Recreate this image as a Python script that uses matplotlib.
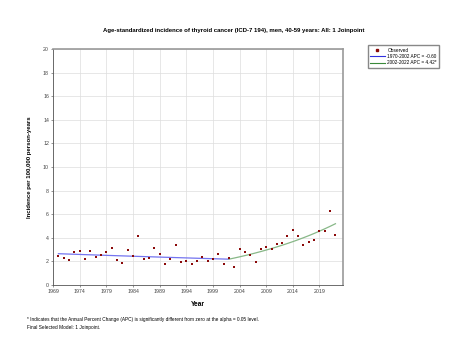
import matplotlib
matplotlib.use("Agg")
import matplotlib.pyplot as plt
import numpy as np

plt.rcParams["font.family"] = ["Liberation Sans", "DejaVu Sans"]

# observed age-standardized incidence, men 40-59
years = list(range(1970, 2023))
observed = [2.43, 2.26, 2.09, 2.77, 2.85, 2.23, 2.91, 2.40, 2.57, 2.77,
            3.11, 2.15, 1.89, 2.94, 2.43, 4.13, 2.18, 2.29, 3.16, 2.65,
            1.75, 2.20, 3.39, 1.92, 2.06, 1.81, 2.00, 2.37, 2.00, 2.20,
            2.63, 1.81, 2.32, 1.50, 3.08, 2.80, 2.54, 1.95, 3.05, 3.19,
            3.02, 3.50, 3.58, 4.18, 4.66, 4.12, 3.36, 3.62, 3.84, 4.58,
            4.58, 6.25, 4.26]

# joinpoint segments
seg_start = [1970, 2002]
seg_end = [2002, 2022]
seg_apc = [-0.60, 4.42]
start_value = 2.65
seg_labels = ["1970-2002 APC = -0.60", "2002-2022 APC = 4.42*"]
seg_colors = ["#7474f0", "#88b888"]
legend_colors = ["#3030e0", "#3a8a3a"]

xticks = [1969, 1974, 1979, 1984, 1989, 1994, 1999, 2004, 2009, 2014, 2019]
yticks = list(range(0, 21, 2))

fig = plt.figure(figsize=(4.5, 3.45), dpi=100)
ax = fig.add_axes([0.118, 0.174, 0.644, 0.684])

v0 = start_value
for s, e, apc, c in zip(seg_start, seg_end, seg_apc, seg_colors):
    t = np.arange(s, e + 1)
    fit = v0 * (1 + apc / 100.0) ** (t - s)
    ax.plot(t, fit, color=c, lw=0.9, zorder=2)
    v0 = fit[-1]

ax.scatter(years, observed, s=4.5, color="#8b0a0a", marker="s", zorder=3, linewidths=0)

ax.set_xlim(1969, 2023.4)
ax.set_ylim(0, 20)
ax.set_xticks(xticks)
ax.set_yticks(yticks)
ax.tick_params(labelsize=3.8, length=1.5, width=0.4, colors="#444444", pad=1.5)
ax.grid(True, color="#dddddd", lw=0.5)
ax.set_axisbelow(True)
for side in ["left", "bottom"]:
    ax.spines[side].set_color("#555555")
    ax.spines[side].set_linewidth(0.6)
for side in ["top", "right"]:
    ax.spines[side].set_color("#999999")
    ax.spines[side].set_linewidth(1.2)

ax.set_xlabel("Year", fontsize=4.8, fontweight="bold", labelpad=5)
ax.set_ylabel("Incidence per 100,000 person-years", fontsize=4.3,
              fontweight="bold", labelpad=8)

fig.text(0.52, 0.913, "Age-standardized incidence of thyroid cancer (ICD-7 194), men, 40-59 years: All: 1 Joinpoint",
         ha="center", va="center", fontsize=4.3, fontweight="bold")

# legend
handles = [plt.Line2D([], [], ls="none", marker="s", ms=1.6, color="#8b0a0a")]
for c in legend_colors:
    handles.append(plt.Line2D([], [], color=c, lw=0.8))
fig.legend(handles, ["Observed"] + seg_labels, loc="upper left",
           bbox_to_anchor=(0.813, 0.875), fontsize=3.4, frameon=True,
           fancybox=False, edgecolor="#888888", framealpha=1,
           handlelength=3, handletextpad=0.6, borderpad=0.45, labelspacing=0.3)

fig.text(0.06, 0.073, "* Indicates that the Annual Percent Change (APC) is significantly different from zero at the alpha = 0.05 level.",
         fontsize=3.4, ha="left", va="center")
fig.text(0.06, 0.051, "Final Selected Model: 1 Joinpoint.", fontsize=3.4, ha="left", va="center")

fig.savefig("out.png", dpi=100)
